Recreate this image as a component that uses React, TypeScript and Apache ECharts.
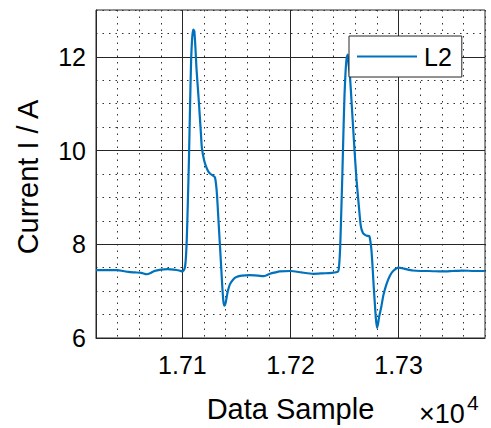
import React, { useEffect, useRef } from 'react';
import * as echarts from 'echarts';

// ---- data ----
const samples = [
  17020, 17030, 17040, 17045, 17050, 17056, 17062, 17067, 17070, 17074, 17080, 17086, 17092, 17097, 17100,
  17102, 17103, 17104, 17105, 17106, 17107, 17108, 17109, 17110, 17111, 17112, 17113, 17115, 17117, 17118,
  17120, 17122, 17124, 17126, 17128, 17130, 17131, 17132, 17133, 17134, 17135, 17136, 17137, 17138, 17139,
  17140, 17141, 17142, 17144, 17147, 17150, 17155, 17162, 17170, 17175, 17178, 17181, 17186, 17190, 17200,
  17210, 17221, 17230, 17238, 17244, 17245, 17246, 17247, 17248, 17249, 17250, 17251, 17252, 17253, 17254,
  17255, 17257, 17259, 17261, 17263, 17265, 17267, 17269, 17271, 17273, 17274, 17275, 17276, 17277, 17278,
  17279, 17280, 17281, 17282, 17284, 17286, 17289, 17292, 17295, 17300, 17305, 17313, 17320, 17328, 17340,
  17350, 17359, 17370, 17380,
];
const current = [
  7.45, 7.45, 7.45, 7.43, 7.41, 7.4, 7.39, 7.36, 7.38, 7.43, 7.46, 7.47, 7.46, 7.44, 7.42,
  7.48, 7.65, 8.1, 8.9, 9.8, 10.9, 11.9, 12.4, 12.58, 12.55, 12.2, 11.75, 11.1, 10.4, 10.05,
  9.8, 9.65, 9.55, 9.5, 9.47, 9.43, 9.3, 9.05, 8.65, 8.25, 7.86, 7.45, 7.05, 6.76, 6.69,
  6.75, 6.88, 7.0, 7.15, 7.25, 7.3, 7.33, 7.34, 7.33, 7.32, 7.34, 7.37, 7.4, 7.42, 7.43,
  7.4, 7.37, 7.38, 7.39, 7.42, 7.55, 7.95, 8.7, 9.5, 10.4, 11.2, 11.7, 11.98, 12.05, 11.8,
  11.6, 10.85, 10.1, 9.4, 8.88, 8.4, 8.24, 8.2, 8.18, 8.17, 8.05, 7.85, 7.5, 7.1, 6.75,
  6.42, 6.22, 6.3, 6.45, 6.66, 6.92, 7.16, 7.33, 7.43, 7.5, 7.48, 7.44, 7.43, 7.43, 7.42,
  7.43, 7.44, 7.43, 7.43,
];
const xMajorTicks = [17100, 17200, 17300];
const yMajorTicks = [8, 10, 12];
const seriesName = 'L2';
const xTitle = 'Data Sample';
const yTitle = 'Current I / A';

const FONT = '"Liberation Sans", Arial, Helvetica, sans-serif';
const INK = '#262626';
const BLUE = '#0072BD';

export default function App() {
  const ref = useRef<HTMLDivElement>(null);

  useEffect(() => {
    const chart = echarts.init(ref.current as HTMLDivElement, null, { renderer: 'svg' });
    const data = samples.map((s, i) => [s, current[i]]);
    chart.setOption({
      animation: false,
      backgroundColor: '#ffffff',
      textStyle: { fontFamily: FONT },
      grid: {
        left: 96,
        top: 10,
        right: 6,
        bottom: 87,
        show: true,
        borderColor: INK,
        borderWidth: 1,
        backgroundColor: '#ffffff',
      },
      xAxis: {
        type: 'value',
        min: 17020,
        max: 17380,
        interval: 20,
        axisLine: { show: true, lineStyle: { color: INK, width: 1 } },
        axisTick: { show: false },
        splitLine: { show: true, lineStyle: { color: '#333333', width: 1, type: [1.5, 5] } },
        axisLabel: {
          color: '#000',
          fontSize: 25,
          fontFamily: FONT,
          margin: 14,
          showMinLabel: false,
          showMaxLabel: false,
          formatter: (v: number) => (xMajorTicks.includes(v) ? (v / 10000).toFixed(2) : ''),
        },
        name: xTitle,
        nameLocation: 'middle',
        nameGap: 56,
        nameTextStyle: { color: '#000', fontSize: 29, fontFamily: FONT },
      },
      yAxis: {
        type: 'value',
        min: 6,
        max: 13,
        interval: 0.5,
        axisLine: { show: true, lineStyle: { color: INK, width: 1 } },
        axisTick: { show: false },
        splitLine: { show: true, lineStyle: { color: '#333333', width: 1, type: [1.5, 5] } },
        axisLabel: {
          color: '#000',
          fontSize: 25,
          fontFamily: FONT,
          margin: 10,
          formatter: (v: number) => (v % 2 === 0 && v <= 12 ? String(v) : ''),
        },
        name: yTitle,
        nameLocation: 'middle',
        nameGap: 54,
        nameTextStyle: { color: '#000', fontSize: 29, fontFamily: FONT, padding: [0, 6, 0, 0] },
      },
      legend: {
        left: 349,
        top: 36,
        backgroundColor: '#ffffff',
        borderColor: INK,
        borderWidth: 1,
        borderRadius: 0,
        padding: [8, 10, 8, 8],
        itemWidth: 60,
        itemHeight: 2.2,
        itemGap: 0,
        textStyle: { color: '#000', fontSize: 25, fontFamily: FONT, padding: [0, 0, 0, 2] },
        data: [{ name: seriesName, icon: 'rect', itemStyle: { color: BLUE } }],
      },
      series: [
        {
          name: seriesName,
          type: 'line',
          data,
          symbol: 'none',
          smooth: 0.2,
          z: 3,
          lineStyle: { color: BLUE, width: 2.2 },
          itemStyle: { color: BLUE },
          markLine: {
            silent: true,
            symbol: 'none',
            z: 1,
            label: { show: false },
            emphasis: { disabled: true },
            lineStyle: { color: INK, type: 'solid', width: 1 },
            data: [
              ...xMajorTicks.map((v) => ({ xAxis: v })),
              ...yMajorTicks.map((v) => ({ yAxis: v })),
            ],
          },
        },
      ],
      graphic: [
        {
          type: 'text',
          left: 419,
          top: 400,
          style: { text: '×10', fontSize: 27, fill: '#000', fontFamily: FONT },
        },
        {
          type: 'text',
          left: 467,
          top: 392,
          style: { text: '4', fontSize: 21, fill: '#000', fontFamily: FONT },
        },
      ],
    });
    return () => chart.dispose();
  }, []);

  return (
    <div
      ref={ref}
      style={{ position: 'fixed', left: 0, top: 0, width: 491, height: 428 }}
    />
  );
}
